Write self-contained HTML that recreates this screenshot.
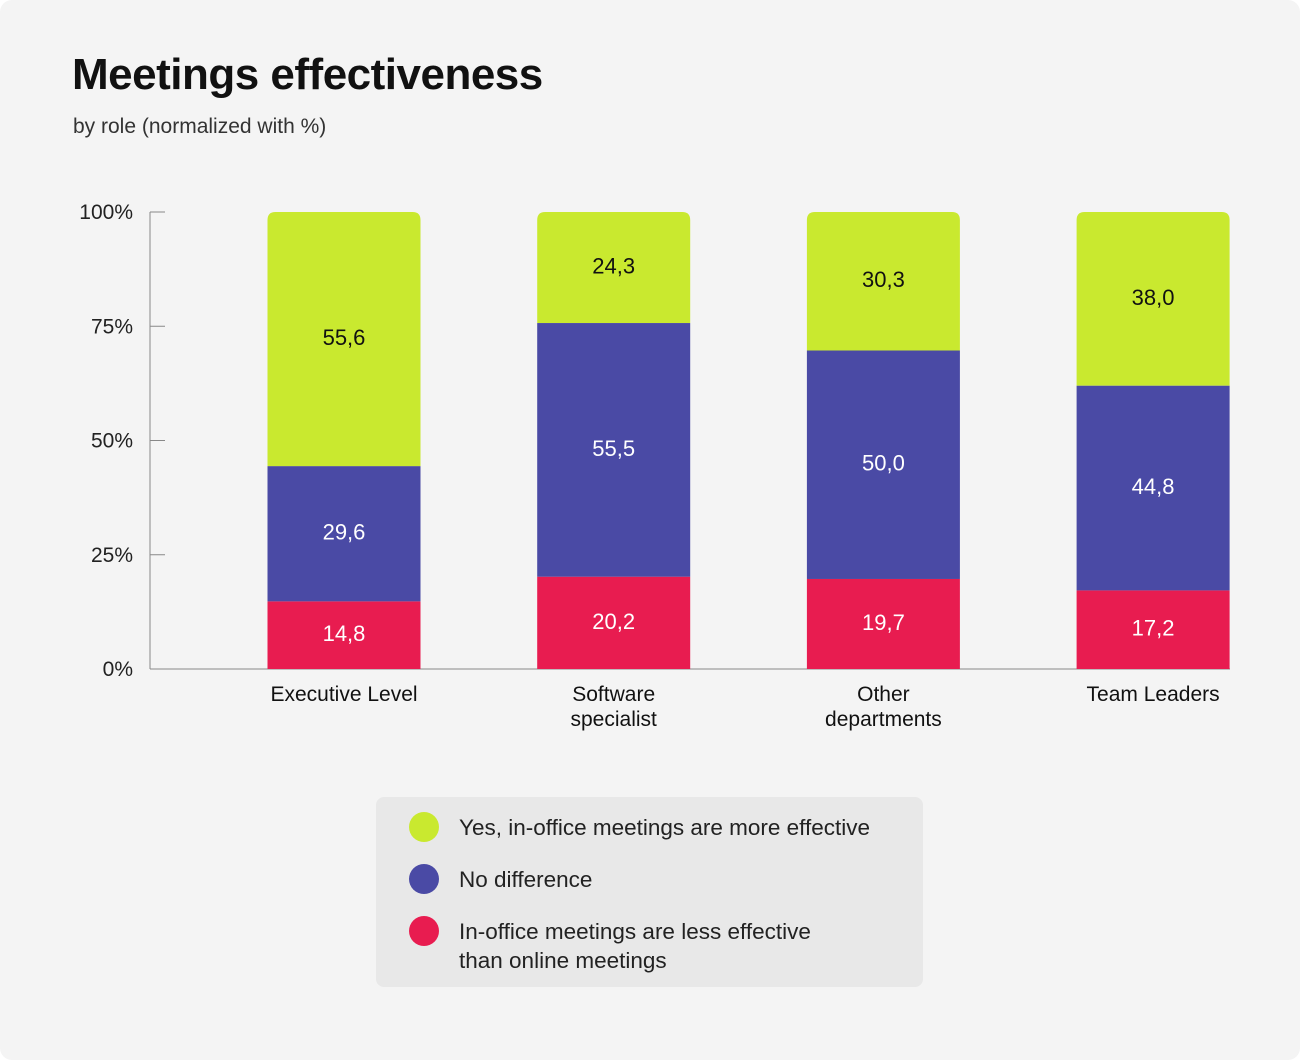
<!DOCTYPE html>
<html><head><meta charset="utf-8"><style>
html,body{margin:0;padding:0;background:#fff;}
#card{position:relative;width:1300px;height:1060px;background:#f4f4f4;border-radius:12px;overflow:hidden;font-family:"Liberation Sans",sans-serif;color:#111;}
#title{position:absolute;left:72px;top:50px;font-size:44px;font-weight:bold;margin:0;letter-spacing:-0.5px;}
#subtitle{position:absolute;left:73px;top:115px;font-size:21px;color:#333;}
#legend{position:absolute;left:376px;top:797px;width:547px;height:190px;background:#e8e8e8;border-radius:8px;}
.li{position:absolute;left:34px;font-size:22.5px;color:#222;}
.dot{position:absolute;left:-1px;width:30px;height:30px;border-radius:50%;}
.lt{position:absolute;left:49px;top:1px;line-height:29px;white-space:nowrap;}
</style></head><body>
<div id="card">
<h1 id="title">Meetings effectiveness</h1>
<div id="subtitle">by role (normalized with %)</div>
<svg id="chart" width="1300" height="1060" style="position:absolute;left:0;top:0"></svg>
<div id="legend">
 <div class="li" style="top:15px"><div class="dot" style="background:#c9e92f"></div><div class="lt">Yes, in-office meetings are more effective</div></div>
 <div class="li" style="top:67px"><div class="dot" style="background:#4a4aa5"></div><div class="lt">No difference</div></div>
 <div class="li" style="top:119px"><div class="dot" style="background:#e81c50"></div><div class="lt">In-office meetings are less effective<br>than online meetings</div></div>
</div>
</div>
<script>
const categories=[["Executive Level"],["Software","specialist"],["Other","departments"],["Team Leaders"]];
const lessValues=[14.8,20.2,19.7,17.2];
const noDiffValues=[29.6,55.5,50.0,44.8];
const yesValues=[55.6,24.3,30.3,38.0];
const yTicks=[0,25,50,75,100];

const svg=document.getElementById('chart');
const NS='http://www.w3.org/2000/svg';
const y0=669,y1=212,xL=150,xR=1230;
const y=v=>y0-(v/100)*(y0-y1);
const bandStep=269.7,barW=153;
function mk(t,a){const e=document.createElementNS(NS,t);for(const k in a)e.setAttribute(k,a[k]);svg.appendChild(e);return e;}

let ax=mk('line',{x1:xL,y1:y1,x2:xL,y2:y0,stroke:'#888','stroke-width':1});


let bx=mk('line',{x1:xL,y1:y0,x2:xR,y2:y0,stroke:'#888','stroke-width':1});


yTicks.forEach(t=>{
 let tk=mk('line',{x1:xL,y1:y(t),x2:xL+15,y2:y(t),stroke:'#888','stroke-width':1});
 
 
 let tl=mk('text',{x:133,y:y(t)+7,'text-anchor':'end','font-size':21,fill:'#222','font-family':'Liberation Sans, sans-serif'});
 tl.textContent=t+'%';
 
 
});
const series=[[lessValues,'#e81c50','#fff','less'],[noDiffValues,'#4a4aa5','#fff','nodiff'],[yesValues,'#c9e92f','#111','yes']];
categories.forEach((c,i)=>{
 const cx=344+bandStep*i;
 let base=0;
 series.forEach(([vals,col,tc,nm],si)=>{
  const v=vals[i];const top=y(base+v),bot=y(base);
  let r;
  if(si===2){
   const x=cx-barW/2,w=barW,rr=8;
   r=mk('path',{d:`M${x},${bot}V${top+rr}Q${x},${top} ${x+rr},${top}H${x+w-rr}Q${x+w},${top} ${x+w},${top+rr}V${bot}Z`,fill:col});
  } else r=mk('rect',{x:cx-barW/2,y:top,width:barW,height:bot-top,fill:col});
  
  
  let t=mk('text',{x:cx,y:(top+bot)/2+6,'text-anchor':'middle','font-size':22,fill:tc,'font-family':'Liberation Sans, sans-serif'});
  t.textContent=v.toFixed(1).replace('.',',');
  
  
  base+=v;
 });
 c.forEach((ln,k)=>{
  let t=mk('text',{x:cx,y:701+k*25,'text-anchor':'middle','font-size':21,fill:'#111','font-family':'Liberation Sans, sans-serif'});
  t.textContent=ln;
  
  
 });
});
</script>
</body></html>
